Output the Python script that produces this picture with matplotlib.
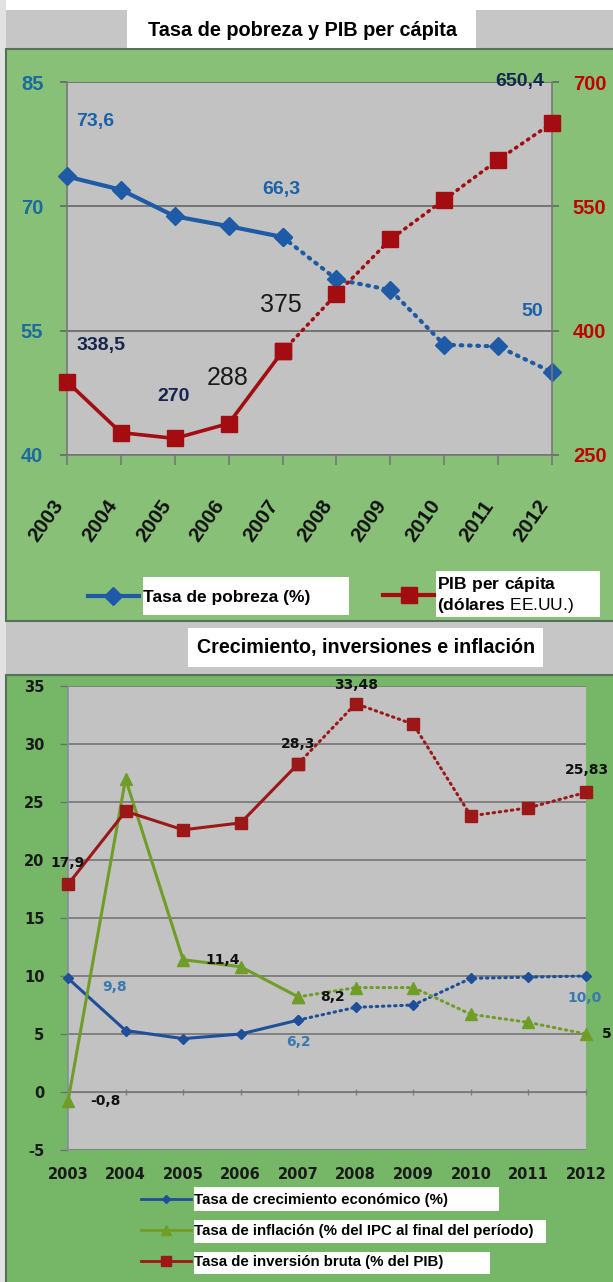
import matplotlib
matplotlib.use("Agg")
import matplotlib.pyplot as plt
from matplotlib.patches import Rectangle
from matplotlib.lines import Line2D

W, H = 613, 1282

# datos
years = ["2003", "2004", "2005", "2006", "2007", "2008", "2009", "2010", "2011", "2012"]
pobreza = [73.6, 72.0, 68.8, 67.6, 66.3, 61.2, 59.9, 53.3, 53.1, 50.0]
pib = [338.5, 277.0, 270.0, 288.0, 375.0, 444.0, 510.0, 558.0, 606.0, 650.4]

crecimiento = [9.8, 5.3, 4.6, 5.0, 6.2, 7.3, 7.5, 9.8, 9.9, 10.0]
inflacion = [-0.8, 27.0, 11.4, 10.8, 8.2, 9.0, 9.0, 6.7, 6.0, 5.0]
inversion = [17.9, 24.2, 22.6, 23.2, 28.3, 33.48, 31.7, 23.8, 24.5, 25.83]

pob_ticks = [40, 55, 70, 85]
pib_ticks = [250, 400, 550, 700]
bottom_ticks = [-5, 0, 5, 10, 15, 20, 25, 30, 35]

NARROW = ["Liberation Sans Narrow", "Liberation Sans", "DejaVu Sans"]
ARIAL = ["Liberation Sans", "DejaVu Sans"]
VERDANA = ["DejaVu Sans"]

plt.rcParams["axes.unicode_minus"] = False
plt.rcParams["mathtext.fontset"] = "custom"
plt.rcParams["mathtext.rm"] = "Liberation Sans"
plt.rcParams["mathtext.bf"] = "Liberation Sans:bold"

BLUE = "#1f5aa6"
RED = "#a30d12"
B_BLUE = "#1f4f9a"
B_GREEN = "#709d27"
B_RED = "#9c1818"


def fx(px):
    return px / W


def fy(py):
    return 1 - py / H


def box(x0, y0, x1, y1, **kw):
    r = Rectangle((fx(x0), fy(y1)), (x1 - x0) / W, (y1 - y0) / H,
                  transform=fig.transFigure, **kw)
    fig.add_artist(r)
    return r


def fmt(v, d):
    return f"{v:.{d}f}".replace(".", ",")


fig = plt.figure(figsize=(W / 100, H / 100), dpi=100)
fig.patch.set_facecolor("#c6c6c6")

# fondos
box(0, 0, W, 10, facecolor="white", edgecolor="none", zorder=-6)
box(0, 0, 6, H, facecolor="#e2e2e2", edgecolor="none", zorder=-6)
box(6, 49, W + 5, 621, facecolor="#88c078", edgecolor="#56705a", lw=1.5, zorder=-5)
box(6, 675, W + 5, H + 5, facecolor="#76b767", edgecolor="#56705a", lw=1.5, zorder=-5)
box(127, 10, 476, 48, facecolor="white", edgecolor="none", zorder=-4)
box(188, 628, 543, 667, facecolor="white", edgecolor="none", zorder=-4)
fig.text(fx(302), fy(30), "Tasa de pobreza y PIB per cápita", ha="center", va="center",
         fontsize=14.3, fontweight="bold", family=ARIAL)
fig.text(fx(366), fy(648), "Crecimiento, inversiones e inflación", ha="center", va="center",
         fontsize=14.2, fontweight="bold", family=ARIAL)

# ---------------- grafico superior ----------------
x = list(range(len(years)))
ax1 = fig.add_axes([fx(67), fy(455), 485 / W, 373 / H])
ax1.set_facecolor("#c2c2c2")
ax1.set_xlim(0, 9)
ax1.set_ylim(40, 85)
ax1.set_yticks(pob_ticks)
ax1.yaxis.grid(True, color="#666666", lw=1.2)
ax1.set_axisbelow(True)
ax1.tick_params(axis="y", length=5, width=1.2, color="#666666", pad=12,
                labelcolor="#1b6aa0", labelsize=14.5)
ax1.tick_params(axis="x", length=7, width=1.2, color="#777777", pad=23)
ax1.set_xticks(x)
ax1.set_xticklabels(years, rotation=55, ha="right", fontsize=15, fontweight="bold",
                    family=NARROW, color="#111111")
for lab in ax1.get_yticklabels():
    lab.set_fontweight("bold")
    lab.set_family(NARROW)
for s in ["top", "right"]:
    ax1.spines[s].set_visible(False)
for s in ["left", "bottom"]:
    ax1.spines[s].set_color("#777777")
    ax1.spines[s].set_linewidth(1.2)

ax2 = ax1.twinx()
ax2.set_ylim(250, 700)
ax2.set_yticks(pib_ticks)
ax2.tick_params(axis="y", length=5, width=1.2, color="#666666", pad=10,
                labelcolor="#c00000", labelsize=14.5)
for lab in ax2.get_yticklabels():
    lab.set_fontweight("bold")
    lab.set_family(NARROW)
for s in ["top", "left", "bottom"]:
    ax2.spines[s].set_visible(False)
ax2.spines["right"].set_color("#777777")
ax2.spines["right"].set_linewidth(1.2)

dots = (0, (0.4, 1.6))
ax1.plot(x[:5], pobreza[:5], color=BLUE, lw=3, marker="D", ms=9, clip_on=False, zorder=3)
ax1.plot(x[4:], pobreza[4:], color=BLUE, lw=3, ls=dots, dash_capstyle="round",
         marker="D", ms=9, clip_on=False, zorder=3)
ax2.plot(x[:5], pib[:5], color=RED, lw=2.6, marker="s", ms=11, clip_on=False, zorder=3)
ax2.plot(x[4:], pib[4:], color=RED, lw=2.6, ls=dots, dash_capstyle="round",
         marker="s", ms=11, clip_on=False, zorder=3)

for i, d, dx, dy in [(0, 1, 28, 55), (4, 1, -1, 48), (9, 0, -20, 61)]:
    ax1.annotate(fmt(pobreza[i], d), (i, pobreza[i]), xytext=(dx, dy), textcoords="offset pixels",
                 ha="center", va="center", fontsize=14, fontweight="bold", family=NARROW,
                 color="#1a62a8", annotation_clip=False)
for i, d, dx, dy in [(9, 1, -32, 42), (0, 1, 34, 36), (2, 0, -1, 42)]:
    ax2.annotate(fmt(pib[i], d), (i, pib[i]), xytext=(dx, dy), textcoords="offset pixels",
                 ha="center", va="center", fontsize=14, fontweight="bold", family=NARROW,
                 color="#16264f", annotation_clip=False)
for i, dx, dy in [(3, -1, 46), (4, -2, 46)]:
    ax2.annotate(fmt(pib[i], 0), (i, pib[i]), xytext=(dx, dy), textcoords="offset pixels",
                 ha="center", va="center", fontsize=18, family=NARROW,
                 color="#1a1a1a", annotation_clip=False)

# leyenda superior
box(143, 577, 349, 615, facecolor="white", edgecolor="none", zorder=1)
box(436, 571, 600, 617, facecolor="white", edgecolor="none", zorder=1)
fs_top = 12.5
fig.legend(handles=[Line2D([], [], color=BLUE, lw=3, marker="D", ms=9)],
           labels=["Tasa de pobreza (%)"], loc="center left",
           bbox_to_anchor=(fx(88), fy(597)), frameon=False, borderpad=0, borderaxespad=0,
           handlelength=51 / (fs_top * 100 / 72), handletextpad=0.25,
           prop={"family": ARIAL, "weight": "bold", "size": fs_top})
fig.legend(handles=[Line2D([], [], color=RED, lw=3, marker="s", ms=11)],
           labels=["$\\mathbf{PIB\\ per\\ cápita}$\n$\\mathbf{(dólares}$ EE.UU.)"],
           loc="center left",
           bbox_to_anchor=(fx(383), fy(595)), frameon=False, borderpad=0, borderaxespad=0,
           handlelength=51 / (fs_top * 100 / 72), handletextpad=0.15,
           prop={"family": ARIAL, "size": fs_top})

# ---------------- grafico inferior ----------------
ax3 = fig.add_axes([fx(68), fy(1150), 518 / W, 464 / H])
ax3.set_facecolor("#c2c2c2")
ax3.set_xlim(0, 9)
ax3.set_ylim(-5, 35)
ax3.set_yticks(bottom_ticks)
ax3.yaxis.grid(True, color="#6e6e6e", lw=1.1)
ax3.set_axisbelow(True)
ax3.tick_params(axis="y", length=6, width=1, color="#6e6e6e", pad=11,
                labelsize=10.5, labelcolor="#1a1a1a")
for lab in ax3.get_yticklabels():
    lab.set_fontweight("bold")
    lab.set_family(VERDANA)
ax3.set_xticks(x)
ax3.tick_params(axis="x", direction="inout", length=4, width=1, color="#808080",
                labelbottom=False)
ax3.spines["bottom"].set_position(("data", 0))
ax3.spines["bottom"].set_color("#7a7a7a")
ax3.spines["left"].set_color("#8090a0")
ax3.spines["left"].set_linewidth(1.2)
for s in ["top", "right"]:
    ax3.spines[s].set_visible(False)

sec = ax3.secondary_xaxis("bottom")
sec.set_xticks(x)
sec.set_xticklabels(years, fontsize=10.5, fontweight="bold", family=VERDANA, color="#1a1a1a")
sec.tick_params(length=0, pad=12)
sec.spines["bottom"].set_visible(False)

series = [(crecimiento, B_BLUE, "D", 5), (inflacion, B_GREEN, "^", 8), (inversion, B_RED, "s", 8)]
for vals, col, mk, ms in series:
    ax3.plot(x[:5], vals[:5], color=col, lw=2.2, marker=mk, ms=ms, clip_on=False, zorder=3)
    ax3.plot(x[4:], vals[4:], color=col, lw=2.2, ls=(0, (0.5, 1.5)), dash_capstyle="round",
             marker=mk, ms=ms, clip_on=False, zorder=3)

labels_b = [
    (inversion, 5, 2, 0, 19, "#111111"),
    (inversion, 4, 1, 0, 20, "#111111"),
    (inversion, 9, 2, 1, 22, "#111111"),
    (inversion, 0, 1, 0, 21, "#111111"),
    (inflacion, 2, 1, 40, 0, "#111111"),
    (inflacion, 4, 1, 34, 0, "#111111"),
    (inflacion, 0, 1, 37, 0, "#111111"),
    (inflacion, 9, 0, 21, 0, "#111111"),
    (crecimiento, 0, 1, 47, -9, "#3a78b0"),
    (crecimiento, 4, 1, 0, -22, "#3a78b0"),
    (crecimiento, 9, 1, -1, -22, "#3a78b0"),
]
for vals, i, d, dx, dy, col in labels_b:
    ax3.annotate(fmt(vals[i], d), (i, vals[i]), xytext=(dx, dy), textcoords="offset pixels",
                 ha="center", va="center", fontsize=10, fontweight="bold", family=VERDANA,
                 color=col, annotation_clip=False, zorder=4)

# leyenda inferior
box(194, 1187, 499, 1211, facecolor="white", edgecolor="none", zorder=1)
box(194, 1220, 546, 1243, facecolor="white", edgecolor="none", zorder=1)
box(194, 1252, 490, 1274, facecolor="white", edgecolor="none", zorder=1)
fs_b = 10.8
handles_b = [Line2D([], [], color=c, lw=2, marker=m, ms=s - 1) for _, c, m, s in series]
fig.legend(handles=handles_b,
           labels=["Tasa de crecimiento económico (%)",
                   "Tasa de inflación (% del IPC al final del período)",
                   "Tasa de inversión bruta (% del PIB)"],
           loc="center left", bbox_to_anchor=(fx(141), fy(1231)), frameon=False,
           borderpad=0, borderaxespad=0, handlelength=50 / (fs_b * 100 / 72),
           handletextpad=0.2, labelspacing=1.12,
           prop={"family": ARIAL, "weight": "bold", "size": fs_b})

fig.savefig("out.png", dpi=100)
